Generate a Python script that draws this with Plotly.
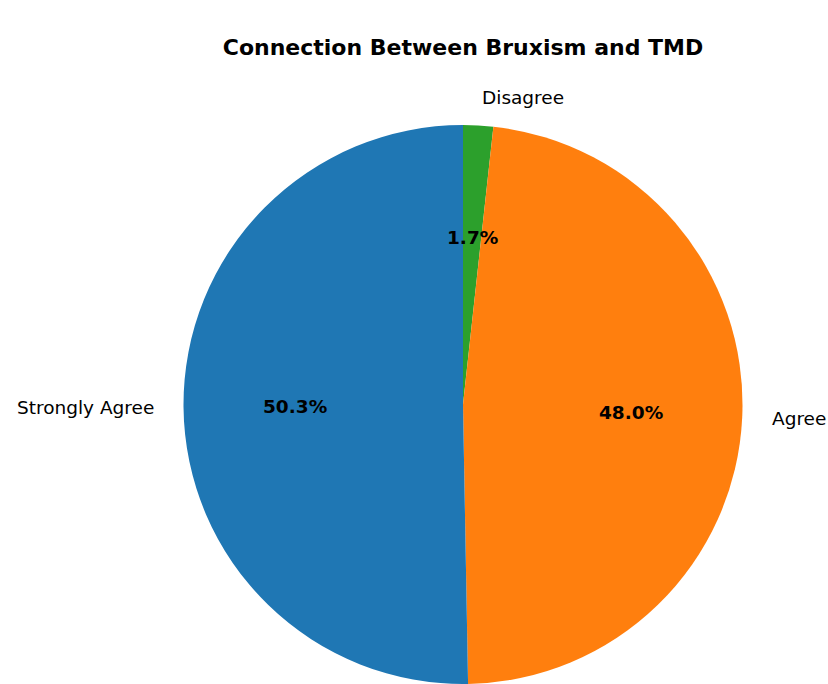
import math
import plotly.graph_objects as go

labels = ["Strongly Agree", "Agree", "Disagree"]
counts = [87, 83, 3]
colors = ["#1f77b4", "#ff7f0e", "#2ca02c"]
title_text = "Connection Between Bruxism and TMD"

W, H = 828, 684
m_t, m_b, m_l, m_r = 125, 0, 0, 0
plot_w = W - m_l - m_r
plot_h = H - m_t - m_b

cx = 463 / W
half = 0.35
dom_x = [cx - half, cx + half]
dom_y = [0, 1]

r_px = min((dom_x[1] - dom_x[0]) * plot_w, (dom_y[1] - dom_y[0]) * plot_h) / 2
rx = r_px / plot_w
ry = r_px / plot_h
cy = 0.5

# counter-clockwise from 12 o'clock == clockwise from 12 o'clock in reverse order
fig = go.Figure(go.Pie(
    labels=labels[::-1], values=counts[::-1], sort=False, direction="clockwise",
    rotation=0, marker=dict(colors=colors[::-1], line=dict(width=0)),
    textinfo="none", hoverinfo="label+percent", showlegend=False,
    domain=dict(x=dom_x, y=dom_y),
))

total = sum(counts)
annotations = []
start = 90.0
for lab, v in zip(labels, counts):
    frac = v / total
    mid = math.radians(start + 360 * frac / 2)
    start += 360 * frac
    dx, dy = math.cos(mid), math.sin(mid)
    annotations.append(dict(
        x=cx + 1.1 * rx * dx, y=cy + 1.1 * ry * dy, xref="paper", yref="paper",
        text=lab, showarrow=False, xanchor="left" if dx > 0 else "right", yanchor="middle",
        font=dict(family="DejaVu Sans", size=18.5, color="black"),
    ))
    annotations.append(dict(
        x=cx + 0.6 * rx * dx, y=cy + 0.6 * ry * dy, xref="paper", yref="paper",
        text="<b>%1.1f%%</b>" % (100 * frac), showarrow=False, xanchor="center", yanchor="middle",
        font=dict(family="DejaVu Sans", size=18.5, color="black"),
    ))

fig.update_layout(
    width=W, height=H, margin=dict(t=m_t, b=m_b, l=m_l, r=m_r),
    paper_bgcolor="white", plot_bgcolor="white",
    title=dict(text="<b>" + title_text + "</b>", x=cx, xanchor="center",
               y=1 - 47 / H, yanchor="middle", yref="container",
               font=dict(family="DejaVu Sans", size=22, color="black")),
    annotations=annotations,
)

fig.write_html("out.html")
